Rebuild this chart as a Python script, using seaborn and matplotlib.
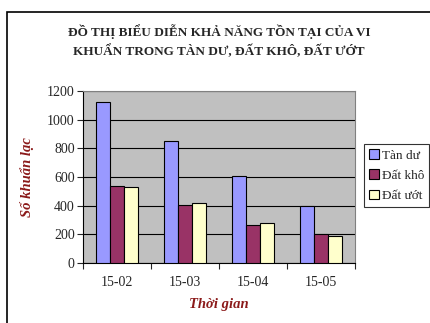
import matplotlib.pyplot as plt
import seaborn as sns
import pandas as pd
from matplotlib.patches import Rectangle

# Dữ liệu
thoi_gian = ['15-02', '15-03', '15-04', '15-05']
tan_du = [1120, 850, 610, 400]
dat_kho = [540, 405, 265, 205]
dat_uot = [530, 420, 280, 185]
nhom = ['Tàn dư', 'Đất khô', 'Đất ướt']
mau = ['#9999FF', '#993366', '#FFFFCC']

df = pd.DataFrame({
    'Thời gian': thoi_gian * 3,
    'Số khuẩn lạc': tan_du + dat_kho + dat_uot,
    'Nhóm': [n for n in nhom for _ in thoi_gian],
})

sns.set_style('white')
plt.rcParams['font.family'] = ['Liberation Serif', 'DejaVu Serif']

fig = plt.figure(figsize=(4.3, 3.23), dpi=100)
ax = fig.add_axes([83 / 430, 60 / 323, 272 / 430, 172 / 323])
ax.set_facecolor('#C0C0C0')

sns.barplot(data=df, x='Thời gian', y='Số khuẩn lạc', hue='Nhóm',
            palette=mau, width=0.63, edgecolor='black', linewidth=0.8,
            saturation=1, ax=ax, zorder=3)

ax.set_ylim(0, 1200)
ax.set_xlim(-0.5, 3.5)
ax.set_yticks(range(0, 1201, 200))
ax.yaxis.grid(True, color='black', linewidth=0.8, zorder=0)
ax.set_axisbelow(True)

# vạch chia trục x nằm giữa các nhóm
ax.set_xticks([-0.5, 0.5, 1.5, 2.5, 3.5], minor=True)
ax.tick_params(axis='x', which='major', length=0, labelsize=10, pad=9)
ax.tick_params(axis='x', which='minor', length=4, width=0.8, direction='out')
ax.tick_params(axis='y', length=4, width=0.8, direction='out', labelsize=10, pad=2)
ax.xaxis.set_ticks_position('bottom')
ax.yaxis.set_ticks_position('left')

for s in ['top', 'right']:
    ax.spines[s].set_color('#808080')
    ax.spines[s].set_linewidth(0.8)
for s in ['left', 'bottom']:
    ax.spines[s].set_color('black')
    ax.spines[s].set_linewidth(0.8)

ax.set_xlabel('Thời gian', fontsize=10.5, fontweight='bold', fontstyle='italic',
              color='#8B1A1A', labelpad=7)
ax.set_ylabel('Số khuẩn lạc', fontsize=10.5, fontweight='bold', fontstyle='italic',
              color='#8B1A1A', labelpad=9)

fig.text(219 / 430, 1 - 41 / 323,
         'ĐỒ THỊ BIỂU DIỄN KHẢ NĂNG TỒN TẠI CỦA VI\nKHUẨN TRONG TÀN DƯ, ĐẤT KHÔ, ĐẤT ƯỚT',
         ha='center', va='center', fontsize=9.5, fontweight='bold',
         linespacing=1.45)

ax.get_legend().remove()
handles = [Rectangle((0, 0), 1, 1, facecolor=c, edgecolor='black', linewidth=0.8) for c in mau]
leg = fig.legend(handles, nhom, loc='upper left', bbox_to_anchor=(364 / 430, 1 - 144 / 323),
                 fontsize=9.5, frameon=True, fancybox=False, handlelength=0.7,
                 handleheight=0.7, handletextpad=0.25, borderpad=0.4,
                 labelspacing=0.6, borderaxespad=0)
leg.get_frame().set_edgecolor('black')
leg.get_frame().set_linewidth(0.8)

# khung ngoài của biểu đồ
fig.patches.append(Rectangle((7 / 430, -0.05), 1.1, 1 - 12 / 323 + 0.05,
                             transform=fig.transFigure, fill=False,
                             edgecolor='black', linewidth=1.2))

fig.savefig('out.png', dpi=100)
